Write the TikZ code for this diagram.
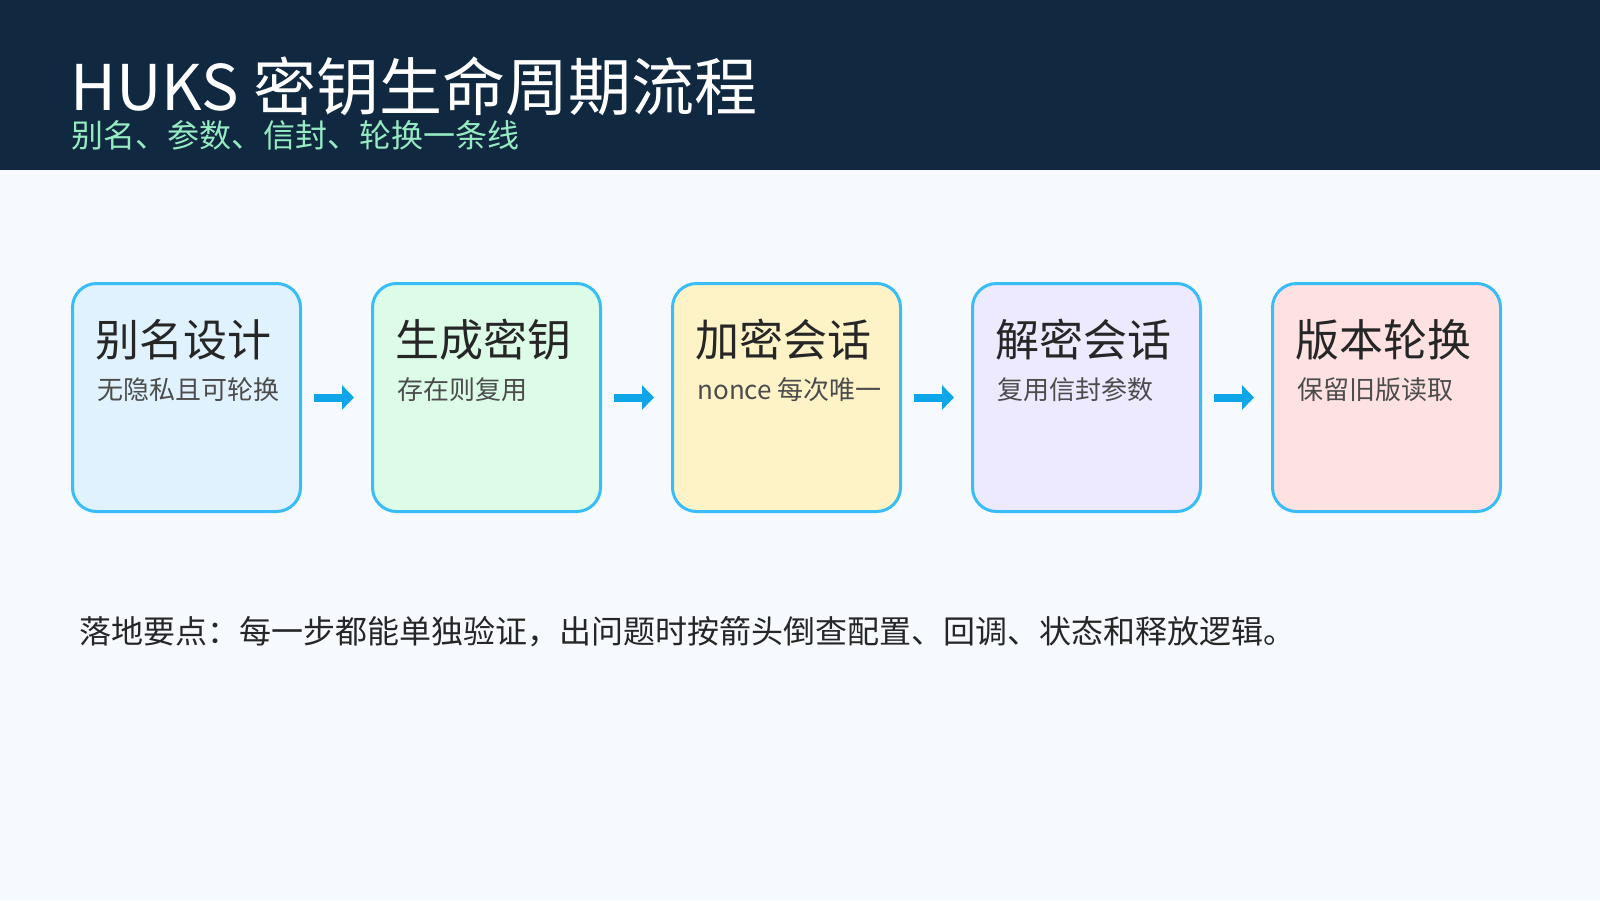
\documentclass[tikz,border=0pt]{standalone}
\usepackage{fontspec}
\setmainfont{Noto Sans CJK SC}
\usetikzlibrary{arrows.meta}
\begin{document}
\begin{tikzpicture}[x=0.5pt,y=-0.5pt,
 box/.style={line width=1.5pt, rounded corners=12pt, minimum width=114pt, minimum height=114pt, anchor=north west},
 ttl/.style={anchor=base west, font=\fontsize{22}{26}\selectfont, text=black!85},
 sub/.style={anchor=base west, font=\fontsize{13}{15}\selectfont, text=black!70},
 arr/.style={-{Triangle[length=6pt,width=12pt]}, line width=4pt, draw={rgb,255:red,14;green,165;blue,233}},
]
\fill[fill={rgb,255:red,246;green,250;blue,255}] (0,0) rectangle (1600,900);
\fill[fill={rgb,255:red,16;green,41;blue,64}] (0,0) rectangle (1600,170);
\node[anchor=base west, text=white, font=\fontsize{31.5}{38}\selectfont, inner sep=0] (t) at (70,110) {HUKS 密钥生命周期流程};
\node[anchor=base west, text={rgb,255:red,150;green,235;blue,195}, font=\fontsize{16}{19}\selectfont, inner sep=0] (st) at (71,147) {别名、参数、信封、轮换一条线};
\definecolor{c1}{RGB}{224,242,254}
\definecolor{c2}{RGB}{220,252,231}
\definecolor{c3}{RGB}{254,243,199}
\definecolor{c4}{RGB}{237,233,254}
\definecolor{c5}{RGB}{254,226,226}
\definecolor{bd}{RGB}{56,189,248}
\foreach \i/\c/\a/\b in {0/c1/别名设计/无隐私且可轮换,1/c2/生成密钥/存在则复用,2/c3/加密会话/nonce 每次唯一,3/c4/解密会话/复用信封参数,4/c5/版本轮换/保留旧版读取}{
  \node[box, fill=\c, draw=bd] (b\i) at (71+300*\i,282) {};
  \node[ttl, inner sep=0] (bt\i) at (95+300*\i,356) {\a};
  \node[sub, inner sep=0] (bs\i) at (97+300*\i,399) {\b};
}
\foreach \i [evaluate=\i as \j using int(\i+1)] in {0,1,2,3}{
  \path (b\i.east) ++(12,0) coordinate (s\i);
  \path (b\j.west) ++(-17,0) coordinate (e\i);
  \draw[arr] (s\i) -- (e\i);
}
\node[anchor=base west, inner sep=0, text=black!85, font=\fontsize{16}{19}\selectfont] (note) at (79,643) {落地要点：每一步都能单独验证，出问题时按箭头倒查配置、回调、状态和释放逻辑。};
\end{tikzpicture}
\end{document}
